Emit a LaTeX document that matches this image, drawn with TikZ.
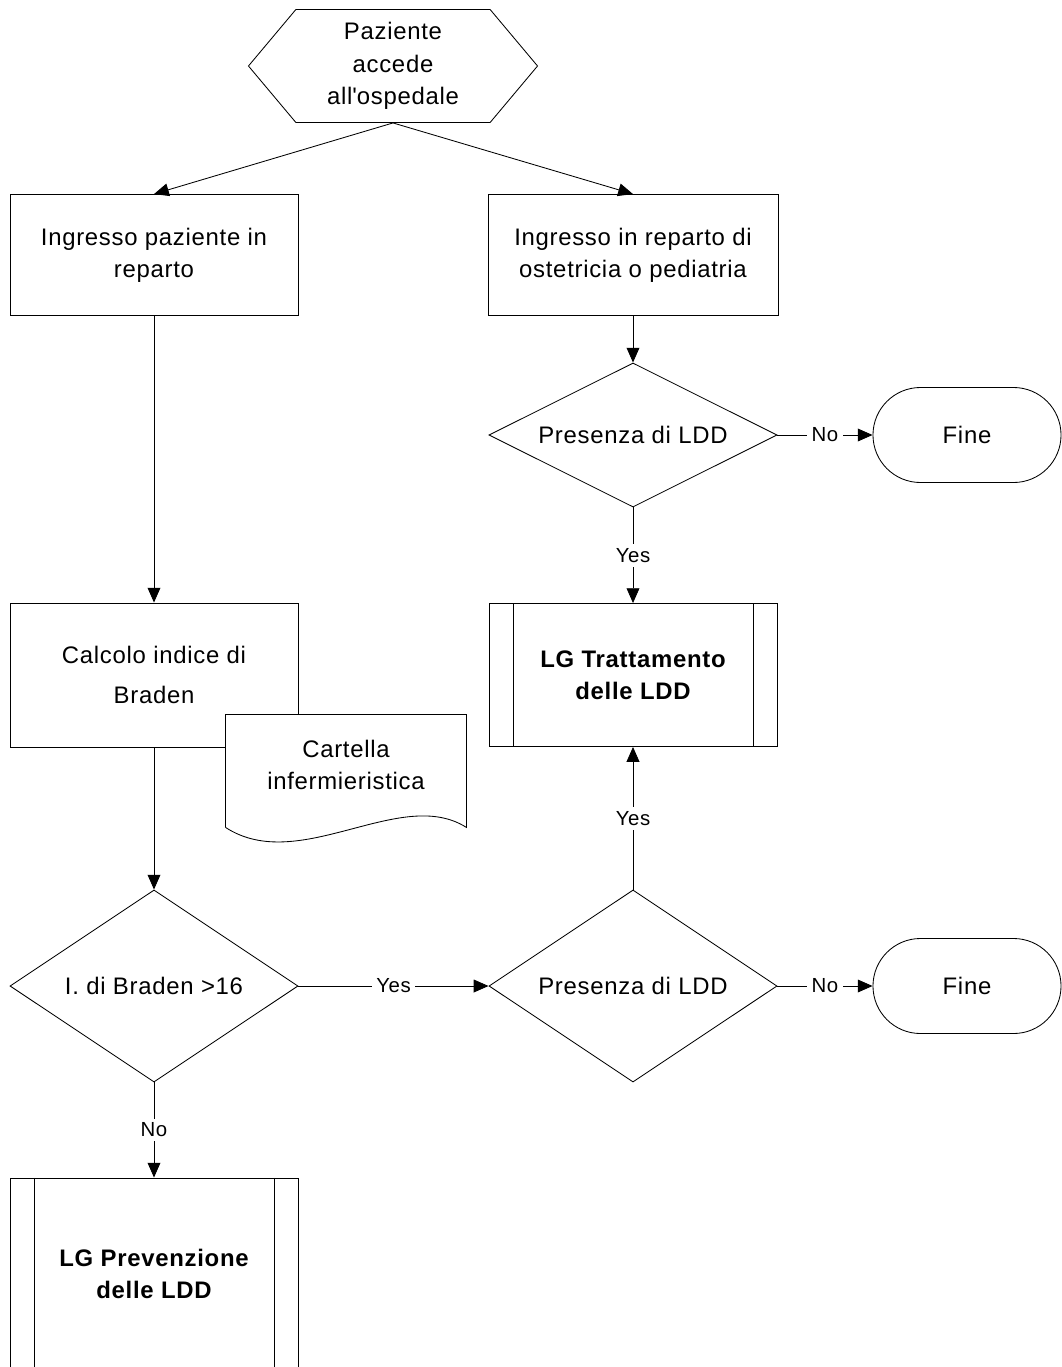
\documentclass[tikz,border=0pt]{standalone}
\usepackage{fontspec}
\setmainfont{Liberation Sans}[LetterSpace=3]
\usetikzlibrary{arrows.meta,shapes.geometric,shapes.misc,shapes.symbols}

\begin{document}
\begin{tikzpicture}[x=0.025cm,y=-0.025cm,line width=0.6pt,
		every node/.style={font=\fontsize{17}{23}\selectfont,align=center,inner sep=0pt},
		proc/.style={draw,rectangle,minimum width=7.2cm,minimum height=3.025cm},
		predef/.style={draw,rectangle,minimum width=7.2cm,minimum height=3.575cm,font=\fontsize{17}{23}\selectfont\bfseries,
			path picture={
				\draw ([xshift=0.6cm]path picture bounding box.north west) -- ([xshift=0.6cm]path picture bounding box.south west);
				\draw ([xshift=-0.6cm]path picture bounding box.north east) -- ([xshift=-0.6cm]path picture bounding box.south east);}},
		decision/.style={draw,diamond,aspect=1.5,minimum width=7.2cm,minimum height=4.8cm},
		endbox/.style={draw,rounded rectangle,minimum width=4.7cm,minimum height=2.375cm},
		lbl/.style={fill=white,inner xsep=3pt,inner ysep=3pt,font=\fontsize{14.5}{16}\selectfont},
		arr/.style={-{Triangle[length=0.37cm,width=0.32cm]}}]
		\useasboundingbox (0,0) rectangle (1061,1367);
%		\draw[help lines,step=100] (0,0) grid (1061,1367);
		\path (393,66) coordinate (hex);
		\path (154,255) coordinate (box_left);
		\path (633,255) coordinate (box_right);
		\path (633,435) coordinate (ldd_top);
		\path (967,435) coordinate (end_top);
		\path (633,675) coordinate (treat);
		\path (154,675) coordinate (braden_calc);
		\path (346,765) coordinate (record);
		\path (154,986) coordinate (braden_test);
		\path (633,986) coordinate (ldd_bottom);
		\path (967,986) coordinate (end_bottom);
		\path (154,1274) coordinate (prevent);

		% nodes
		\node[draw,signal,signal to=west and east,signal pointer angle=100,
			minimum width=7.225cm,minimum height=2.825cm] (start) at (hex) {Paziente\\accede\\all\textquotesingle ospedale};
		\node[proc] (ingresso) at (box_left) {Ingresso paziente in\\reparto};
		\node[proc,minimum width=7.25cm] (ostetricia) at (box_right) {Ingresso in reparto di\\ostetricia o pediatria};
		\node[decision,aspect=2,minimum height=3.6cm] (presenza1) at (ldd_top) {Presenza di LDD};
		\node[endbox] (fine1) at (end_top) {Fine};
		\node[predef] (tratt) at (treat) {LG Trattamento\\delle LDD};
		\node[proc,minimum height=3.6cm,font=\fontsize{17}{28}\selectfont] (calcolo) at (braden_calc) {Calcolo indice di\\Braden};
		\node[fill=white,minimum width=6cm,minimum height=2.5cm] (cartella) at (record) {Cartella\\infermieristica};
		\draw ([yshift=-0.3cm]cartella.south west) -- (cartella.north west) -- (cartella.north east) -- ([yshift=-0.3cm]cartella.south east)
			.. controls +(-66,-42) and +(74,48) .. ([yshift=-0.3cm]cartella.south west);
		\node[decision] (braden) at (braden_test) {I. di Braden >16};
		\node[decision] (presenza2) at (ldd_bottom) {Presenza di LDD};
		\node[endbox] (fine2) at (end_bottom) {Fine};
		\node[predef,minimum height=4.8cm] (prev) at (prevent) {LG Prevenzione\\delle LDD};

		% connectors
		\draw[arr] (start.south) -- (ingresso.north);
		\draw[arr] (start.south) -- (ostetricia.north);
		\draw[arr] (ostetricia) -- (presenza1);
		\draw[arr] (presenza1) -- node[lbl] {No} (fine1);
		\draw[arr] (presenza1) -- node[lbl] {Yes} (tratt);
		\draw[arr] (ingresso) -- (calcolo);
		\draw[arr] (calcolo) -- (braden);
		\draw[arr] (braden) -- node[lbl] {Yes} (presenza2);
		\draw[arr] (presenza2) -- node[lbl] {No} (fine2);
		\draw[arr] (presenza2) -- node[lbl] {Yes} (tratt);
		\draw[arr] (braden) -- node[lbl] {No} (prev);
	\end{tikzpicture}
\end{document}
